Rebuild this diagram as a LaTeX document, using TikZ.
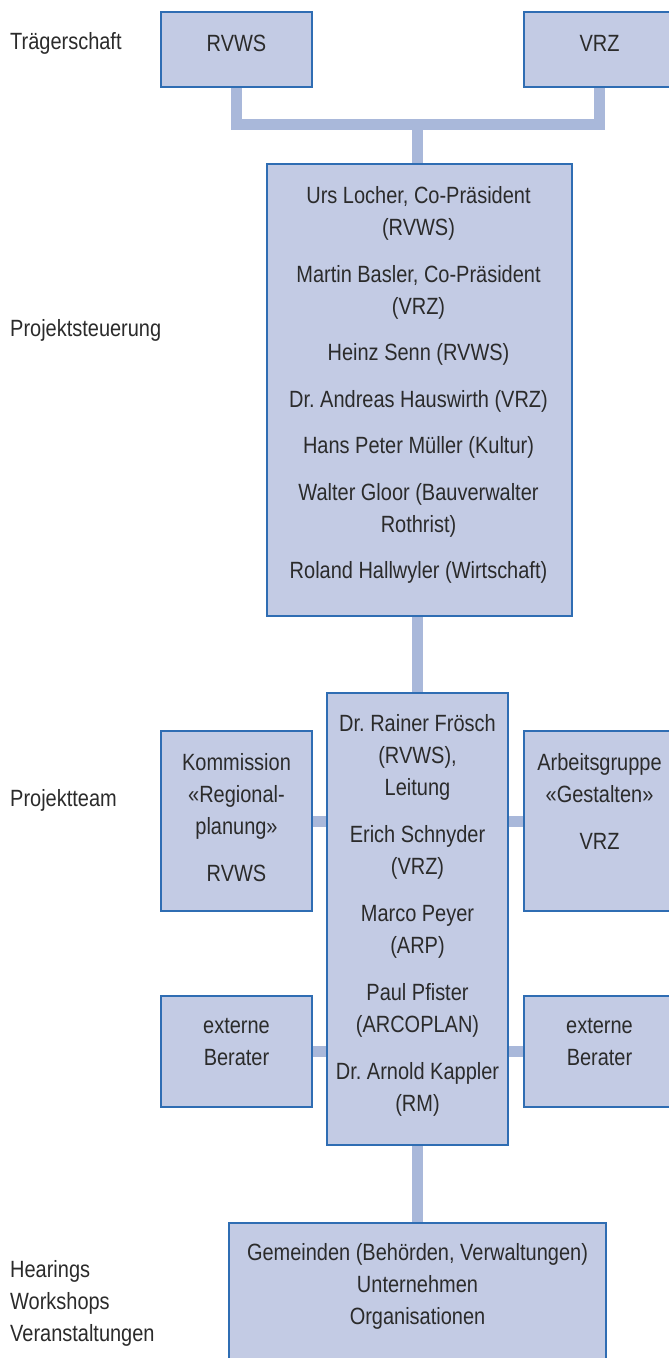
\documentclass[tikz,border=0pt]{standalone}
\usepackage{fontspec}
\setmainfont[FakeStretch=0.85]{Liberation Sans}
\usetikzlibrary{backgrounds}
\definecolor{boxfill}{HTML}{C3CBE4}
\definecolor{boxline}{HTML}{2F6DB3}
\definecolor{connc}{HTML}{A9B8DA}
\definecolor{ink}{HTML}{2B2B2B}
\begin{document}
\begin{tikzpicture}[x=1bp,y=-1bp,
  orgbox/.style={rectangle, draw=boxline, line width=1.3bp, fill=boxfill, inner sep=0pt},
  txt/.style={anchor=base, inner sep=0pt, text=ink, font=\fontsize{23.5bp}{32bp}\selectfont},
  lbl/.style={anchor=base west, inner sep=0pt, text=ink, font=\fontsize{23.5bp}{32bp}\selectfont},
  conn/.style={draw=connc, line width=11bp, line join=miter}]
\useasboundingbox (0,0) rectangle (669,1358);
\clip (0,0) rectangle (669,1358);

% boxes
\node[orgbox, minimum width=151bp, minimum height=75bp] (rvws) at (236.5,49.5) {};
\node[orgbox, minimum width=151bp, minimum height=75bp] (vrz) at (599.5,49.5) {};
\node[orgbox, minimum width=305bp, minimum height=452bp] (steuer) at (419.5,390) {};
\node[orgbox, minimum width=181bp, minimum height=452bp] (team) at (417.5,919) {};
\node[orgbox, minimum width=151bp, minimum height=180bp] (komm) at (236.5,821) {};
\node[orgbox, minimum width=151bp, minimum height=180bp] (arb) at (599.5,821) {};
\node[orgbox, minimum width=151bp, minimum height=111bp] (extL) at (236.5,1051.5) {};
\node[orgbox, minimum width=151bp, minimum height=111bp] (extR) at (599.5,1051.5) {};
\node[orgbox, minimum width=377bp, minimum height=157bp] (gem) at (417.5,1301.5) {};

\coordinate (bar) at (417.5,124.5);

% connectors
\begin{scope}[on background layer]
\fill[white] (0,0) rectangle (669,1358);
\draw[conn] (rvws.south) |- (bar) -| (vrz.south);
\draw[conn] (bar) -- (steuer.north -| bar);
\draw[conn] (team.north) -- (team.north |- steuer.south);
\draw[conn] (komm.east) -- (komm.east -| team.west);
\draw[conn] (arb.west) -- (arb.west -| team.east);
\draw[conn] (extL.east) -- (extL.east -| team.west);
\draw[conn] (extR.west) -- (extR.west -| team.east);
\draw[conn] (team.south) -- (team.south |- gem.north);
\end{scope}

% texts top
\node[txt] (t-rvws) at (236.5,52) {RVWS};
\node[txt] (t-vrz) at (599.5,52) {VRZ};

% Projektsteuerung
\node[txt] (s1) at (418.5,203.5) {Urs Locher, Co-Präsident};
\node[txt] (s2) at (418.5,235.5) {(RVWS)};
\node[txt] (s3) at (418.5,282) {Martin Basler, Co-Präsident};
\node[txt] (s4) at (418.5,314) {(VRZ)};
\node[txt] (s5) at (418.5,360.5) {Heinz Senn (RVWS)};
\node[txt] (s6) at (418.5,407) {Dr.\ Andreas Hauswirth (VRZ)};
\node[txt] (s7) at (418.5,453.5) {Hans Peter Müller (Kultur)};
\node[txt] (s8) at (418.5,500) {Walter Gloor (Bauverwalter};
\node[txt] (s9) at (418.5,532) {Rothrist)};
\node[txt] (s10) at (418.5,578.5) {Roland Hallwyler (Wirtschaft)};

% Projektteam
\node[txt] (p1) at (417.5,731.5) {Dr.\ Rainer Frösch};
\node[txt] (p2) at (417.5,763.5) {(RVWS),};
\node[txt] (p3) at (417.5,795.5) {Leitung};
\node[txt] (p4) at (417.5,842.5) {Erich Schnyder};
\node[txt] (p5) at (417.5,874.5) {(VRZ)};
\node[txt] (p6) at (417.5,921.5) {Marco Peyer};
\node[txt] (p7) at (417.5,953.5) {(ARP)};
\node[txt] (p8) at (417.5,1000.5) {Paul Pfister};
\node[txt] (p9) at (417.5,1032.5) {(ARCOPLAN)};
\node[txt] (p10) at (417.5,1079.5) {Dr.\ Arnold Kappler};
\node[txt] (p11) at (417.5,1111.5) {(RM)};

% side boxes
\node[txt] (k1) at (236.5,770.5) {Kommission};
\node[txt] (k2) at (236.5,802.5) {«Regional-};
\node[txt] (k3) at (236.5,834.5) {planung»};
\node[txt] (k4) at (236.5,881.5) {RVWS};
\node[txt] (a1) at (599.5,770.5) {Arbeitsgruppe};
\node[txt] (a2) at (599.5,802.5) {«Gestalten»};
\node[txt] (a3) at (599.5,849.5) {VRZ};
\node[txt] (el1) at (236.5,1033.5) {externe};
\node[txt] (el2) at (236.5,1065.5) {Berater};
\node[txt] (er1) at (599.5,1033.5) {externe};
\node[txt] (er2) at (599.5,1065.5) {Berater};

% bottom
\node[txt] (g1) at (417.5,1260.5) {Gemeinden (Behörden, Verwaltungen)};
\node[txt] (g2) at (417.5,1292.5) {Unternehmen};
\node[txt] (g3) at (417.5,1324.5) {Organisationen};

% left labels
\node[lbl] (l1) at (10,50) {Trägerschaft};
\node[lbl] (l2) at (10,336) {Projektsteuerung};
\node[lbl] (l3) at (10,806) {Projektteam};
\node[lbl] (l4) at (10,1277) {Hearings};
\node[lbl] (l5) at (10,1309) {Workshops};
\node[lbl] (l6) at (10,1341) {Veranstaltungen};
\end{tikzpicture}
\end{document}
